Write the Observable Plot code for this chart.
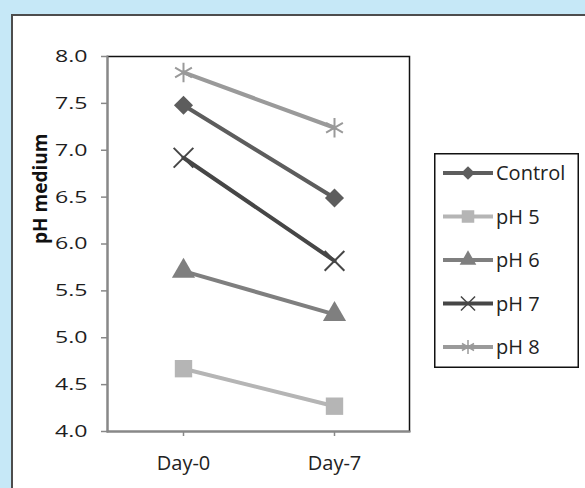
<!DOCTYPE html>
<html>
<head>
<meta charset="utf-8">
<script src="https://cdn.jsdelivr.net/npm/d3@7"></script>
<script src="https://cdn.jsdelivr.net/npm/@observablehq/plot@0.6"></script>
<style>
  html, body { margin: 0; padding: 0; }
  body { width: 585px; height: 488px; background: #c6e8f7; position: relative; overflow: hidden; font-family: 'Open Sans', sans-serif; }
  #panel { position: absolute; left: 11px; top: 14px; width: 600px; height: 500px; background: #fff; border-left: 2px solid #4d4d4d; border-top: 2px solid #4d4d4d; }
  #chart { position: absolute; left: 0; top: 0; }
  #legend { position: absolute; left: 434px; top: 153px; }
</style>
</head>
<body>
<div id="panel"></div>
<div id="chart"></div>
<div id="legend"></div>
<script>
// ---- data ----
const days = ["Day-0", "Day-7"];
const seriesNames = ["Control", "pH 5", "pH 6", "pH 7", "pH 8"];
const control = [7.48, 6.49];
const ph5 = [4.67, 4.27];
const ph6 = [5.71, 5.25];
const ph7 = [6.92, 5.82];
const ph8 = [7.83, 7.24];
const yTicks = [4.0, 4.5, 5.0, 5.5, 6.0, 6.5, 7.0, 7.5, 8.0];
const yLabel = "pH medium";

// ---- styles ----
const seriesValues = [control, ph5, ph6, ph7, ph8];
const colors = ["#5d5d5d", "#b5b5b5", "#7f7f7f", "#464646", "#9a9a9a"];
const symbols = ["diamond2", "square", "triangle", "times", "asterisk"];
const filled = [true, true, true, false, false];
const radii = [8.6, 9.8, 8.6, 9.0, 9.2];

const rowsBySeries = seriesNames.map((name, s) =>
  days.map((d, i) => ({ series: name, day: d, value: seriesValues[s][i] }))
);

const marks = [
  Plot.frame({ stroke: "#111", strokeWidth: 1.5 }),
  Plot.frame({ anchor: "left", stroke: "#888", strokeWidth: 2 }),
  Plot.frame({ anchor: "bottom", stroke: "#888", strokeWidth: 2 }),
  Plot.axisY({ ticks: yTicks, tickFormat: d => d.toFixed(1), tickSize: 6, tickPadding: 14, label: null }),
  Plot.axisX({ tickSize: 5, tickPadding: 19, label: null }),
  Plot.text([yLabel], { text: d => d, frameAnchor: "left", dx: -67, rotate: -90, fontWeight: "bold", fontSize: 19, fill: "#111" })
];

rowsBySeries.forEach((rows, s) => {
  marks.push(Plot.line(rows, { x: "day", y: "value", stroke: colors[s], strokeWidth: 4 }));
  if (filled[s]) {
    marks.push(Plot.dot(rows, { x: "day", y: "value", symbol: symbols[s], r: radii[s], fill: colors[s], stroke: "none" }));
  } else {
    marks.push(Plot.dot(rows, { x: "day", y: "value", symbol: symbols[s], r: radii[s], fill: "none", stroke: colors[s], strokeWidth: 2 }));
  }
});

const chart = Plot.plot({
  width: 585,
  height: 488,
  marginLeft: 107,
  marginRight: 176,
  marginTop: 56,
  marginBottom: 57,
  style: { background: "transparent", fontFamily: "'Open Sans', sans-serif", color: "#262626", overflow: "visible" },
  x: { type: "point", domain: days, padding: 0.5 },
  y: { domain: [4, 8] },
  marks
});
document.getElementById("chart").appendChild(chart);
const svgSel = d3.select(chart);
svgSel.selectAll('g[aria-label="y-axis tick"], g[aria-label="x-axis tick"]').attr("stroke", "#888").attr("stroke-width", 1.5);
const yTickStrings = yTicks.map(d => d.toFixed(1));
svgSel.selectAll("text")
  .filter(function () { return days.includes(this.textContent); })
  .style("font-size", "20px").style("fill", "#222");
svgSel.selectAll("text")
  .filter(function () { return yTickStrings.includes(this.textContent); })
  .style("font-size", "17px").style("fill", "#1e1e1e")
  .each(function () {
    const t = d3.select(this);
    const xa = t.attr("x");
    let pre = "";
    if (xa != null && !isNaN(+xa) && +xa !== 0) { pre = ` translate(${+xa},0)`; t.attr("x", null); }
    const tr = t.attr("transform") || "";
    t.attr("transform", `${tr}${pre} scale(1.36,1)`);
  });
svgSel.selectAll("text")
  .filter(function () { return this.textContent === yLabel; })
  .style("font-size", "19px").style("font-weight", "bold");

// ---- legend ----
const lw = 145, lh = 215;
const leg = d3.select("#legend").append("svg").attr("width", lw).attr("height", lh);
leg.append("rect").attr("x", 0.75).attr("y", 0.75).attr("width", lw - 1.5).attr("height", lh - 1.5)
  .attr("fill", "#fff").attr("stroke", "#111").attr("stroke-width", 1.5);
const diamond2 = {
  draw(context, size) {
    const r = Math.sqrt(size) * 0.62625;
    context.moveTo(0, -r); context.lineTo(r, 0); context.lineTo(0, r); context.lineTo(-r, 0); context.closePath();
  }
};
const symMap = { diamond2: diamond2, square: d3.symbolSquare, triangle: d3.symbolTriangle, times: d3.symbolTimes, asterisk: d3.symbolAsterisk };
seriesNames.forEach((name, s) => {
  const y = 20 + s * 43.5;
  const g = leg.append("g").attr("transform", `translate(0,${y})`);
  g.append("line").attr("x1", 9).attr("x2", 59).attr("stroke", colors[s]).attr("stroke-width", 4);
  const size = Math.PI * Math.pow(radii[s] * 0.72, 2);
  const p = g.append("path").attr("transform", "translate(34,0)").attr("d", d3.symbol(symMap[symbols[s]], size)());
  if (filled[s]) p.attr("fill", colors[s]);
  else p.attr("fill", "none").attr("stroke", colors[s]).attr("stroke-width", 1.5);
  g.append("text").attr("x", 62).attr("dy", "0.35em").attr("font-family", "'Open Sans', sans-serif")
    .attr("font-size", 20).attr("fill", "#222").text(name);
});
</script>
</body>
</html>
